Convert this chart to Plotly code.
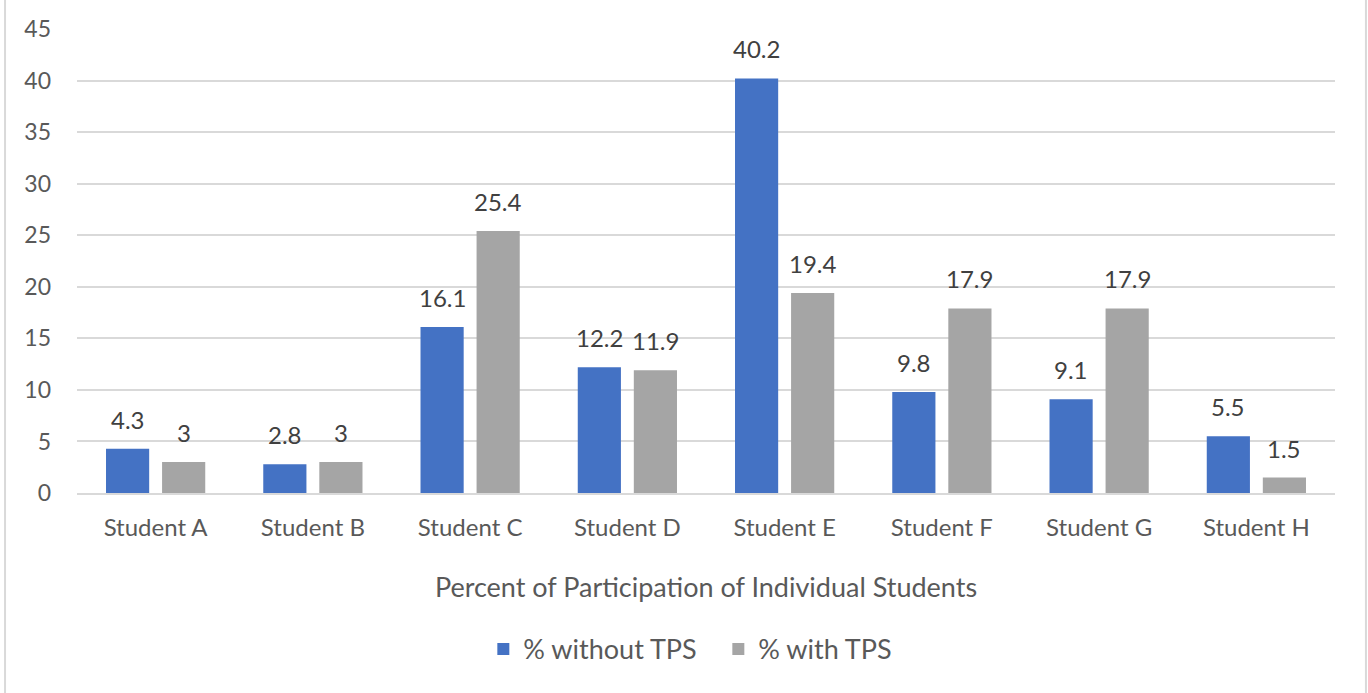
import plotly.graph_objects as go

# Participation data
students = ["Student A", "Student B", "Student C", "Student D",
            "Student E", "Student F", "Student G", "Student H"]
without_tps = [4.3, 2.8, 16.1, 12.2, 40.2, 9.8, 9.1, 5.5]
with_tps = [3, 3, 25.4, 11.9, 19.4, 17.9, 17.9, 1.5]
y_ticks = [0, 5, 10, 15, 20, 25, 30, 35, 40, 45]

BLUE = "#4472C4"
GRAY = "#A5A5A5"
TEXT = "#595959"
LABEL = "#404040"
FONT = "Lato, 'Open Sans', sans-serif"

fig = go.Figure()
fig.add_trace(go.Bar(name="% without TPS", x=students, y=without_tps,
                     marker=dict(color=BLUE, line=dict(width=0))))
fig.add_trace(go.Bar(name="% with TPS", x=students, y=with_tps,
                     marker=dict(color=GRAY, line=dict(width=0))))

# Value labels above each bar
annotations = []
for vals, shift in ((without_tps, -28), (with_tps, 28)):
    for s, v in zip(students, vals):
        annotations.append(dict(
            x=s, y=v, xref="x", yref="y", text=f"{v:g}", showarrow=False,
            xshift=shift, yshift=13, yanchor="bottom",
            font=dict(family=FONT, size=24, color=LABEL)))

# Thin frame lines at the left and right edges of the chart area
shapes = [
    dict(type="line", xref="paper", yref="paper", x0=-0.0572, x1=-0.0572,
         y0=-0.5, y1=1.2, line=dict(color="#D9D9D9", width=2)),
    dict(type="line", xref="paper", yref="paper", x0=1.0246, x1=1.0246,
         y0=-0.5, y1=1.2, line=dict(color="#D9D9D9", width=2)),
]

fig.update_layout(
    width=1368, height=693,
    margin=dict(l=77, r=33, t=29, b=200),
    paper_bgcolor="white", plot_bgcolor="white",
    barmode="group", bargap=0.287, bargroupgap=0.23,
    font=dict(family=FONT, size=24, color=TEXT),
    showlegend=True,
    legend=dict(orientation="h", x=0.323, xanchor="left", y=-0.337,
                yanchor="middle", font=dict(family=FONT, size=27, color=TEXT),
                itemwidth=30, entrywidth=190, traceorder="normal"),
    annotations=annotations,
    shapes=shapes,
)
fig.update_xaxes(
    title=dict(text="Percent of Participation of Individual Students",
               font=dict(family=FONT, size=27, color=TEXT), standoff=38),
    tickfont=dict(family=FONT, size=24, color=TEXT),
    showline=True, linecolor="#D9D9D9", linewidth=2,
    ticks="", ticklabelstandoff=12,
)
fig.update_yaxes(
    range=[0, 45], tickvals=y_ticks, showgrid=True,
    gridcolor="#D9D9D9", gridwidth=2, zeroline=False, showline=False,
    tickfont=dict(family=FONT, size=23, color=TEXT), ticklabelstandoff=25,
)

fig.write_html("out.html")
